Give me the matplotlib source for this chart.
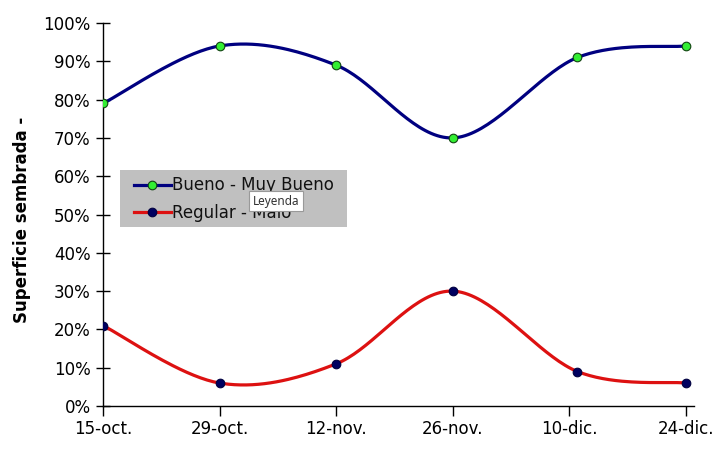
import numpy as np
import matplotlib
matplotlib.use("Agg")
import matplotlib.pyplot as plt
import matplotlib.dates as mdates
from matplotlib.ticker import FuncFormatter
from matplotlib.patches import Rectangle

# ---- data ----
dates = ["2023-10-15", "2023-10-29", "2023-11-12", "2023-11-26", "2023-12-11", "2023-12-24"]
bueno = [79, 94, 89, 70, 91, 94]
regular = [21, 6, 11, 30, 9, 6]
series_names = ["Bueno - Muy Bueno", "Regular - Malo"]
tick_dates = ["2023-10-15", "2023-10-29", "2023-11-12", "2023-11-26", "2023-12-10", "2023-12-24"]
tick_labels = ["15-oct.", "29-oct.", "12-nov.", "26-nov.", "10-dic.", "24-dic."]
y_label = "Superficie sembrada -"

x = mdates.date2num(np.array(dates, dtype="datetime64[D]"))
xt = mdates.date2num(np.array(tick_dates, dtype="datetime64[D]"))


def smooth(xs, ys, n=40):
    """Excel-like smoothed line: cubic Bezier with Catmull-Rom control points."""
    xs = np.asarray(xs, float)
    ys = np.asarray(ys, float)
    px = np.concatenate([[xs[0]], xs, [xs[-1]]])
    py = np.concatenate([[ys[0]], ys, [ys[-1]]])
    outx, outy = [], []
    t = np.linspace(0, 1, n)
    for i in range(1, len(xs)):
        p0 = np.array([px[i], py[i]])
        p3 = np.array([px[i + 1], py[i + 1]])
        c1 = p0 + (np.array([px[i + 1], py[i + 1]]) - np.array([px[i - 1], py[i - 1]])) / 6
        c2 = p3 - (np.array([px[i + 2], py[i + 2]]) - np.array([px[i], py[i]])) / 6
        b = ((1 - t) ** 3)[:, None] * p0 + (3 * (1 - t) ** 2 * t)[:, None] * c1 \
            + (3 * (1 - t) * t ** 2)[:, None] * c2 + (t ** 3)[:, None] * p3
        outx.extend(b[:, 0])
        outy.extend(b[:, 1])
    return np.array(outx), np.array(outy)


W, H = 724, 457
fig = plt.figure(figsize=(W / 100, H / 100), dpi=100)
ax_l, ax_r, ax_t, ax_b = 103, 694, 23, 406
ax = fig.add_axes([ax_l / W, 1 - ax_b / H, (ax_r - ax_l) / W, (ax_b - ax_t) / H])


def axfx(px):
    return (px - ax_l) / (ax_r - ax_l)


def axfy(py):
    return (ax_b - py) / (ax_b - ax_t)


navy = "#000080"
red = "#dd1111"

sx, sy = smooth(x, bueno)
ax.plot(sx, sy, color=navy, lw=2.3, solid_capstyle="round", zorder=3)
ax.plot(x, bueno, ls="none", marker="o", ms=6.2, mfc="#33ee33", mec="#114411", mew=0.8, zorder=4)
sx, sy = smooth(x, regular)
ax.plot(sx, sy, color=red, lw=2.3, solid_capstyle="round", zorder=3)
ax.plot(x, regular, ls="none", marker="o", ms=6.2, mfc="#000060", mec="#000040", mew=0.8, zorder=4)

# legend background box
ax.add_patch(Rectangle((axfx(120), axfy(227)), axfx(347) - axfx(120), axfy(170) - axfy(227),
                       transform=ax.transAxes, facecolor="#c0c0c0", edgecolor="none",
                       zorder=5, clip_on=False))
h1, = ax.plot([], [], color=navy, lw=2.3, marker="o", ms=6.2, mfc="#33ee33", mec="#114411", mew=0.8)
h2, = ax.plot([], [], color=red, lw=2.3, marker="o", ms=6.2, mfc="#000060", mec="#000040", mew=0.8)
leg = ax.legend([h1, h2], series_names, loc="center left",
                bbox_to_anchor=(axfx(134), axfy(199)), frameon=False,
                fontsize=12, handlelength=2.2, handletextpad=0.1,
                borderpad=0, labelspacing=0.55, borderaxespad=0)
leg.set_zorder(6)
for t in leg.get_texts():
    t.set_color("#111111")

ax.set_xlim(xt[0], xt[-1] + 1)
ax.set_ylim(0, 100)
ax.set_xticks(xt)
ax.set_xticklabels(tick_labels)
ax.set_yticks(np.arange(0, 101, 10))
ax.yaxis.set_major_formatter(FuncFormatter(lambda v, p: f"{int(v)}%"))

for s in ["top", "right"]:
    ax.spines[s].set_visible(False)
for s in ["left", "bottom"]:
    ax.spines[s].set_color("black")
    ax.spines[s].set_linewidth(1.0)
ax.tick_params(axis="y", direction="inout", length=10, width=1, labelsize=12, pad=4, colors="black")
ax.tick_params(axis="x", direction="out", length=7, width=1, labelsize=12, pad=3, colors="black")

fig.text(22 / W, 1 - 220 / H, y_label, rotation=90, ha="center", va="center",
         fontsize=12, fontweight="bold", color="black")

# tooltip box
fig.text(253 / W, 1 - 201 / H, "Leyenda", ha="left", va="center", fontsize=8.5,
         family="Noto Sans", color="#333333", zorder=10,
         bbox=dict(boxstyle="square,pad=0.3", fc="white", ec="#999999", lw=0.8))

fig.savefig("out.png", dpi=100, facecolor="white")
